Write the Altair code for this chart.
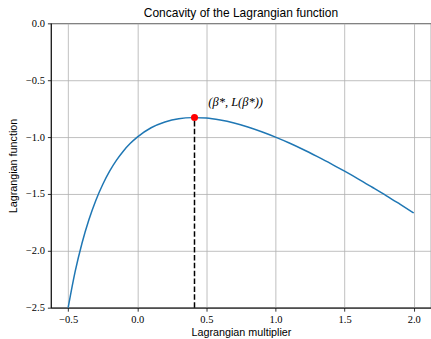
import altair as alt
import pandas as pd

# Lagrange multiplier values and the corresponding dual function values
beta = [-0.5, -0.45, -0.4, -0.35, -0.3, -0.25, -0.2, -0.15, -0.1, -0.05, 0.0,
        0.1, 0.2, 0.3, 0.4, 0.5, 0.6, 0.7, 0.8, 0.9, 1.0,
        1.1, 1.2, 1.3, 1.4, 1.5, 1.6, 1.7, 1.8, 1.9, 2.0]
lagrangian = [-2.5, -2.186, -1.933, -1.727, -1.557, -1.417, -1.3, -1.203, -1.122, -1.055, -1.0,
              -0.918, -0.867, -0.838, -0.829, -0.833, -0.85, -0.876, -0.911, -0.953, -1.0,
              -1.052, -1.109, -1.170, -1.233, -1.3, -1.369, -1.441, -1.514, -1.590, -1.667]

# Maximiser of the dual function
beta_star = [0.414]
l_star = [-0.828]
y_floor = [-2.5]
label_text = ["(β*, L(β*))"]

x_ticks = [-0.5, 0.0, 0.5, 1.0, 1.5, 2.0]
y_ticks = [0.0, -0.5, -1.0, -1.5, -2.0, -2.5]

curve = pd.DataFrame({"beta": beta, "L": lagrangian})
peak = pd.DataFrame({"beta": beta_star, "L": l_star, "floor": y_floor})
label = pd.DataFrame({"beta": [b + 0.1 for b in beta_star],
                      "L": [v + 0.1 for v in l_star],
                      "text": label_text})

x_scale = alt.Scale(domain=[-0.625, 2.125], nice=False, zero=False)
y_scale = alt.Scale(domain=[-2.5, 0.0], nice=False, zero=False)

x_axis = alt.Axis(title="Lagrangian multiplier", values=x_ticks, format=".1f")
y_axis = alt.Axis(title="Lagrangian function", values=y_ticks, format=".1f")

line = alt.Chart(curve).mark_line(color="#1f77b4", strokeWidth=1.5,
                                  interpolate="monotone").encode(
    x=alt.X("beta:Q", scale=x_scale, axis=x_axis),
    y=alt.Y("L:Q", scale=y_scale, axis=y_axis),
)

drop = alt.Chart(peak).mark_rule(color="black", strokeWidth=1.5,
                                 strokeDash=[5.5, 2.4]).encode(
    x=alt.X("beta:Q", scale=x_scale),
    y=alt.Y("floor:Q", scale=y_scale),
    y2="L:Q",
)

dot = alt.Chart(peak).mark_circle(color="red", opacity=1, size=50).encode(
    x=alt.X("beta:Q", scale=x_scale),
    y=alt.Y("L:Q", scale=y_scale),
)

annot = alt.Chart(label).mark_text(align="left", baseline="alphabetic",
                                   font="Liberation Serif", fontStyle="italic",
                                   fontSize=12.5, color="black").encode(
    x=alt.X("beta:Q", scale=x_scale),
    y=alt.Y("L:Q", scale=y_scale),
    text="text:N",
)

chart = alt.layer(line, drop, dot, annot).properties(
    width=381,
    height=285,
    title=alt.TitleParams("Concavity of the Lagrangian function",
                          font="Liberation Sans", fontSize=12,
                          fontWeight="normal", color="black",
                          offset=0, dy=2),
    autosize=alt.AutoSizeParams(type="none"),
    padding={"left": 51, "top": 23, "right": 0, "bottom": 31},
).configure_view(
    stroke="black", strokeWidth=0.8
).configure_axis(
    domainColor="black", domainWidth=0.8,
    tickColor="black", tickSize=3.5, tickWidth=0.8,
    grid=True, gridColor="#b0b0b0", gridWidth=0.8,
    labelFont="Liberation Serif", labelFontSize=10.5, labelColor="black",
    labelPadding=3,
    titleFont="Liberation Sans", titleFontSize=10.8, titleFontWeight="normal",
    titleColor="black",
).configure_axisX(
    titlePadding=2,
).configure_axisY(
    titlePadding=7,
)

chart.save("out.html", embed_options={"renderer": "svg", "actions": False})
